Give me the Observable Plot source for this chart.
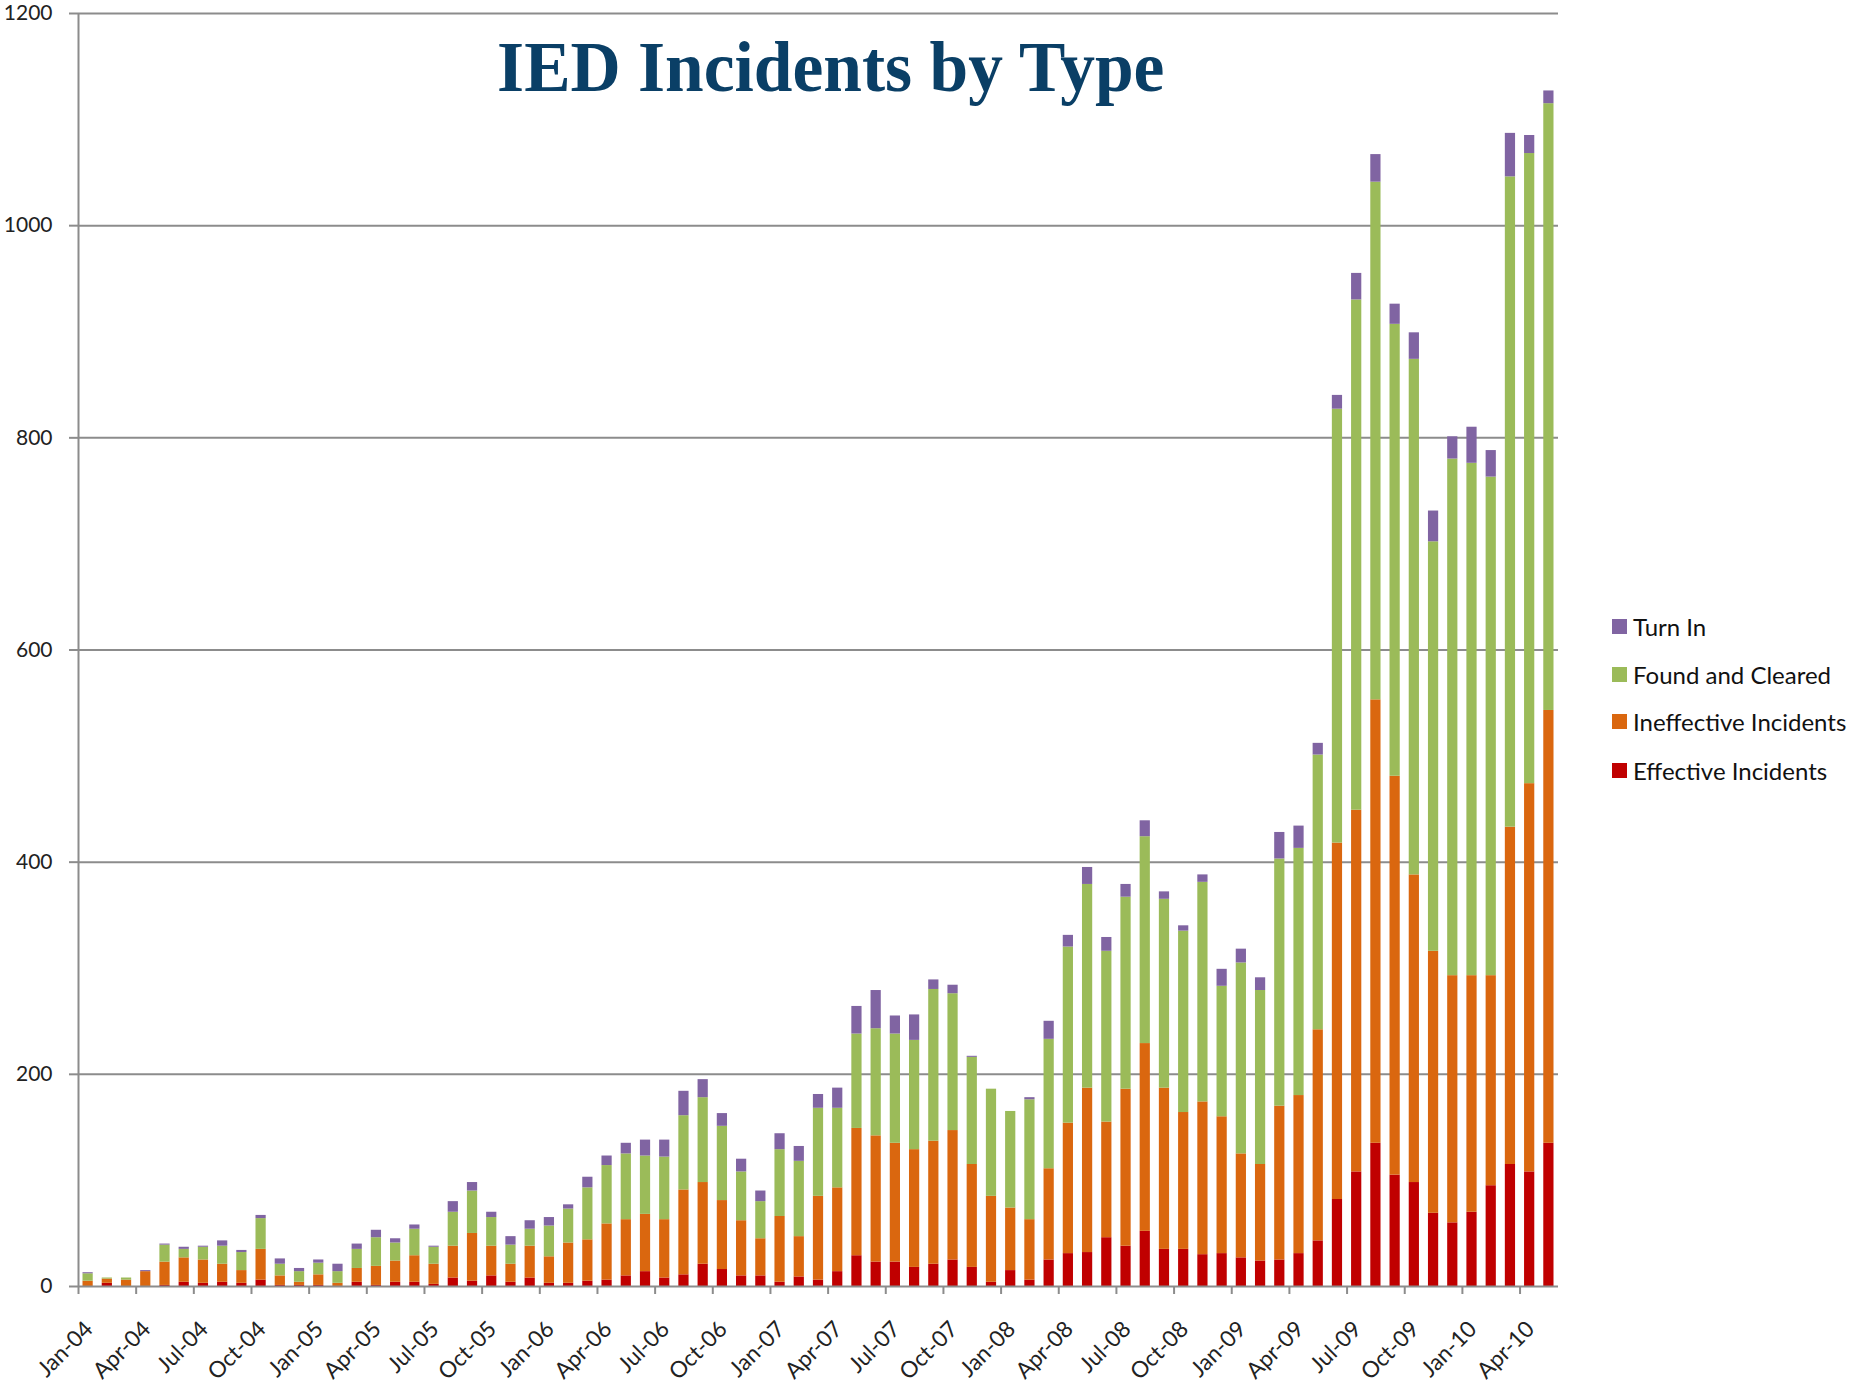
<!DOCTYPE html>
<html>
<head>
<meta charset="utf-8">
<script src="https://cdn.jsdelivr.net/npm/d3@7"></script>
<script src="https://cdn.jsdelivr.net/npm/@observablehq/plot@0.6"></script>
<style>
  html, body { margin: 0; padding: 0; background: #fff; }
  #wrap { position: relative; width: 1853px; height: 1383px; overflow: hidden; font-family: Lato, "Open Sans", sans-serif; }
  #title { position: absolute; left: 331px; width: 1000px; top: 31px; text-align: center;
           font-family: "Liberation Serif", "Times New Roman", serif; font-weight: bold; font-size: 72px;
           line-height: 72px; color: #0a3f66; white-space: nowrap; }
  #title span { display: inline-block; transform: scaleX(0.965); }
  .leg { position: absolute; left: 1612px; height: 30px; display: flex; align-items: center;
         font-size: 24px; color: #111; white-space: nowrap; }
  .leg i { display: inline-block; width: 15px; height: 15px; margin-right: 6px; }
</style>
</head>
<body>
<div id="wrap">
  <div id="title"><span>IED Incidents by Type</span></div>
  <div id="legend"></div>
</div>
<script>
// Categories (one per month)
const months = [
  "Jan-04","Feb-04","Mar-04","Apr-04","May-04","Jun-04","Jul-04","Aug-04","Sep-04","Oct-04","Nov-04","Dec-04",
  "Jan-05","Feb-05","Mar-05","Apr-05","May-05","Jun-05","Jul-05","Aug-05","Sep-05","Oct-05","Nov-05","Dec-05",
  "Jan-06","Feb-06","Mar-06","Apr-06","May-06","Jun-06","Jul-06","Aug-06","Sep-06","Oct-06","Nov-06","Dec-06",
  "Jan-07","Feb-07","Mar-07","Apr-07","May-07","Jun-07","Jul-07","Aug-07","Sep-07","Oct-07","Nov-07","Dec-07",
  "Jan-08","Feb-08","Mar-08","Apr-08","May-08","Jun-08","Jul-08","Aug-08","Sep-08","Oct-08","Nov-08","Dec-08",
  "Jan-09","Feb-09","Mar-09","Apr-09","May-09","Jun-09","Jul-09","Aug-09","Sep-09","Oct-09","Nov-09","Dec-09",
  "Jan-10","Feb-10","Mar-10","Apr-10","May-10"
];

// Series values (bottom to top)
const effective = [
  0,3,0,0,1,4,3,4,3,6, 1,1,1,0,4,1,4,4,2,8, 5,10,4,8,3,3,5,6,10,14,
  8,11,21,16,10,10,4,9,6,14, 29,23,23,18,21,25,18,4,15,6, 25,31,32,46,38,52,35,35,30,31,
  27,24,25,31,43,82,108,135,105,98, 69,60,70,95,115,108,135
];
const ineffective = [
  5,4,6,14,22,23,22,17,12,29, 9,3,10,3,13,18,20,25,19,30, 45,28,17,30,25,38,39,53,53,54,
  55,80,77,65,52,35,62,38,79,79, 120,119,112,111,116,122,97,81,59,57, 86,123,155,109,148,177,152,129,144,129,
  98,91,145,149,199,336,341,418,376,290, 247,233,223,198,318,366,408
];
const foundCleared = [
  7,1,2,0,16,8,12,17,17,29, 11,10,11,11,18,27,17,25,16,32, 40,27,18,16,29,32,49,55,62,55,
  59,70,80,70,46,35,63,71,83,75, 89,101,103,103,143,129,101,101,91,113, 122,166,192,161,181,195,178,171,207,123,
  180,164,233,233,259,409,481,488,426,486, 386,487,483,470,613,594,572
];
const turnIn = [
  1,0,0,1,1,2,1,5,2,3, 5,3,3,7,5,7,4,4,1,10, 8,5,8,8,8,4,10,9,10,15,
  16,23,17,12,12,10,15,14,13,19, 26,36,17,24,9,8,1,0,0,2, 17,11,16,13,12,15,7,5,7,16,
  13,12,25,21,11,13,25,26,19,25, 29,21,34,25,41,17,12
];

const seriesNames = ["Effective Incidents", "Ineffective Incidents", "Found and Cleared", "Turn In"];
const seriesValues = [effective, ineffective, foundCleared, turnIn];
const seriesColors = ["#c00000", "#da670f", "#9bbb59", "#8064a2"];

// Tick labels
const xTickLabels = ["Jan-04","Apr-04","Jul-04","Oct-04","Jan-05","Apr-05","Jul-05","Oct-05","Jan-06","Apr-06",
  "Jul-06","Oct-06","Jan-07","Apr-07","Jul-07","Oct-07","Jan-08","Apr-08","Jul-08","Oct-08",
  "Jan-09","Apr-09","Jul-09","Oct-09","Jan-10","Apr-10"];
const yTicks = [0, 200, 400, 600, 800, 1000, 1200];

const rows = [];
months.forEach((m, i) => {
  seriesNames.forEach((s, k) => rows.push({i, month: m, series: s, value: seriesValues[k][i]}));
});

const tickIdx = xTickLabels.map(l => months.indexOf(l));
const gray = "#8c8c8c";

const chart = Plot.plot({
  width: 1853,
  height: 1383,
  marginLeft: 78,
  marginRight: 295,
  marginTop: 13,
  marginBottom: 97,
  style: {fontFamily: "Lato, 'Open Sans', sans-serif", fontSize: "21px", color: "#222", background: "transparent"},
  x: {type: "linear", domain: [0, months.length]},
  y: {domain: [0, 1200]},
  color: {domain: seriesNames, range: seriesColors},
  marks: [
    Plot.gridY({ticks: yTicks.slice(1), stroke: gray, strokeOpacity: 1, strokeWidth: 2}),
    Plot.rectY(rows, Plot.stackY({
      x: "i", interval: 1, y: "value", fill: "series", order: seriesNames,
      insetLeft: 4.5, insetRight: 4.5
    })),
    Plot.ruleY([0], {stroke: gray, strokeWidth: 2}),
    Plot.ruleX([0], {stroke: gray, strokeWidth: 2}),
    Plot.axisY({ticks: yTicks, tickSize: 9, tickPadding: 17, stroke: gray, strokeWidth: 2,
                fill: "#222", fontSize: 21, label: null, tickFormat: d => String(d)}),
    Plot.axisX({ticks: tickIdx, tickSize: 8, tickFormat: () => "", stroke: gray, strokeWidth: 2, label: null}),
    Plot.axisX({ticks: tickIdx.map(i => i + 0.5), tickSize: 0, tickPadding: 39, tickRotate: -45,
                tickFormat: v => months[Math.floor(v)], fill: "#222", fontSize: 22.5, label: null, dx: 1})
  ]
});
chart.style.position = "absolute";
chart.style.left = "0px";
chart.style.top = "0px";
document.getElementById("wrap").prepend(chart);

// Legend (top to bottom: reverse of stack order)
const legendTops = [611, 659, 706, 755];
const legend = document.getElementById("legend");
seriesNames.slice().reverse().forEach((s, k) => {
  const idx = seriesNames.indexOf(s);
  const el = document.createElement("div");
  el.className = "leg";
  el.style.top = legendTops[k] + "px";
  el.innerHTML = `<i style="background:${seriesColors[idx]}"></i><span>${s}</span>`;
  legend.appendChild(el);
});
</script>
</body>
</html>
